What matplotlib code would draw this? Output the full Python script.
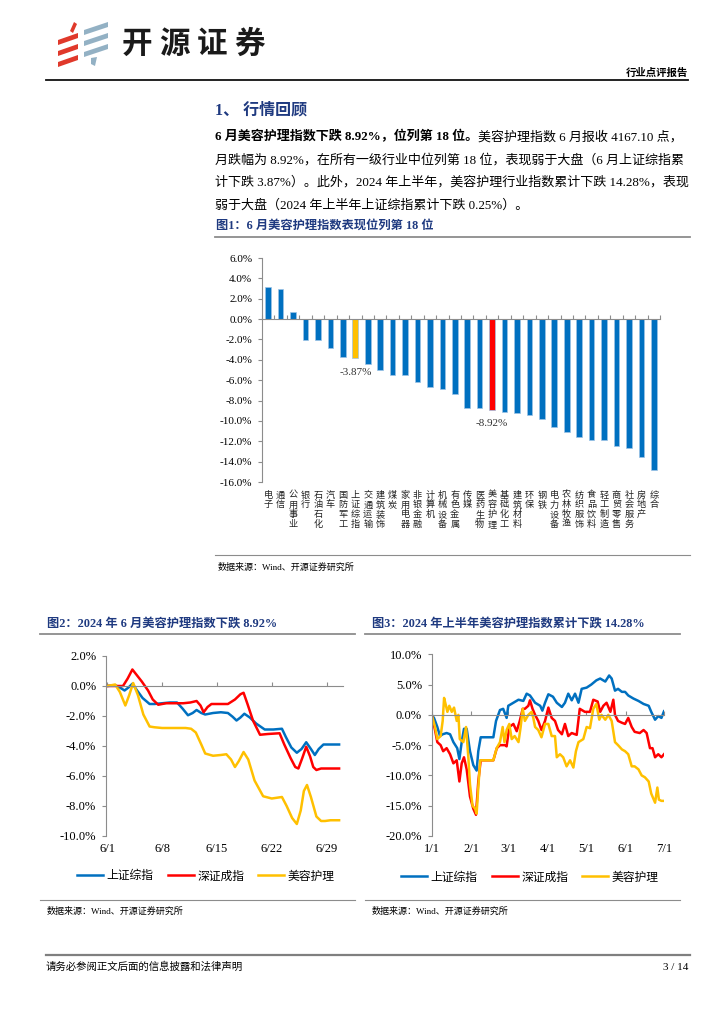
import numpy as np
import matplotlib
matplotlib.use('Agg')
import matplotlib.pyplot as plt
from matplotlib.patches import Polygon
from matplotlib.lines import Line2D

plt.rcParams['font.family'] = ['Noto Sans CJK SC', 'DejaVu Sans']
plt.rcParams['axes.unicode_minus'] = False

W, H = 724, 1024
NAVY = '#1f3a80'
BLUE = '#0070c0'
RED = '#ff0000'
GOLD = '#ffc000'
GREY = '#8c8c8c'
SERIF = ['Liberation Serif', 'Noto Sans CJK SC']

# fig 1: June return by industry (%)
industries = ['电子', '通信', '公用事业', '银行', '石油石化', '汽车', '国防军工', '上证综指',
              '交通运输', '建筑装饰', '煤炭', '家用电器', '非银金融', '计算机', '机械设备',
              '有色金属', '传媒', '医药生物', '美容护理', '基础化工', '建筑材料', '环保',
              '钢铁', '电力设备', '农林牧渔', '纺织服饰', '食品饮料', '轻工制造', '商贸零售',
              '社会服务', '房地产', '综合']
june_ret = [3.18, 2.92, 0.69, -2.03, -2.03, -2.82, -3.77, -3.87, -4.39, -4.98, -5.54, -5.54,
            -6.13, -6.66, -6.89, -7.34, -8.69, -8.69, -8.92, -9.11, -9.18, -9.41, -9.84,
            -10.56, -11.08, -11.54, -11.84, -11.84, -12.43, -12.66, -13.51, -14.79]
highlight = {'上证综指': GOLD, '美容护理': RED}

# fig 2: June cumulative change (%), x = day of June
sh_jun_day = [1, 2, 2.6, 3.2, 3.7, 4.2, 4.8, 5.5, 6.4, 7.0, 8, 9, 9.9, 10.6, 11.3, 11.9, 12.4,
              13.0, 13.5, 14.5, 15.5, 16.4, 17.0, 17.5, 18.0, 18.5, 19.2, 20.0, 21.1, 22.2,
              23.3, 23.8, 24.5, 25.2, 25.8, 26.4, 27.0, 27.5, 28.0, 28.6, 29.5, 30.6]
sh_jun = [0, 0.05, -0.1, -0.3, -0.1, 0.15, -0.3, -0.8, -1.2, -1.2, -1.15, -1.1, -1.1, -1.5,
          -1.95, -1.8, -1.6, -1.8, -1.9, -1.8, -1.75, -1.8, -2.05, -2.3, -2.1, -1.85, -2.1,
          -2.5, -2.9, -2.9, -2.85, -3.4, -4.1, -4.45, -4.2, -3.75, -4.2, -4.6, -4.2, -3.9,
          -3.9, -3.9]
sz_jun_day = [1, 2, 3, 3.6, 4.2, 4.8, 5.4, 6.2, 6.8, 7.5, 8.5, 9.5, 10.7, 11.6, 12.4, 12.9,
              13.3, 13.8, 14.3, 15.3, 16.4, 17.3, 18.0, 18.4, 18.9, 19.6, 20.5, 21.5, 23.0,
              23.6, 24.4, 25.0, 25.4, 25.9, 26.4, 26.9, 27.3, 27.7, 28.3, 29.5, 30.6]
sz_jun = [0, 0, 0, 0.5, 1.1, 0.7, 0.3, -0.3, -0.9, -1.25, -1.15, -1.15, -1.15, -1.1, -1.0,
          -1.3, -1.75, -1.4, -1.2, -1.2, -1.2, -0.9, -0.55, -0.45, -1.2, -2.3, -3.25, -3.2,
          -3.15, -3.9, -4.8, -5.4, -5.5, -4.8, -4.05, -4.7, -5.4, -5.6, -5.5, -5.5, -5.5]
mr_jun_day = [1, 2, 2.6, 3.3, 3.8, 4.3, 4.9, 5.6, 6.4, 7.0, 8, 9, 10, 11, 11.7, 12.3, 13.0,
              13.5, 14.5, 15.5, 16.2, 16.8, 17.3, 17.8, 18.4, 19.0, 19.8, 20.9, 22.0, 23.3,
              23.9, 24.6, 25.2, 25.7, 26.1, 26.5, 27.0, 27.7, 28.3, 28.8, 29.5, 30.6]
mr_jun = [0, 0.1, -0.4, -1.3, -0.6, 0.2, -0.6, -1.9, -2.7, -2.75, -2.8, -2.8, -2.8, -2.8,
          -2.85, -3.1, -3.9, -4.5, -4.65, -4.6, -4.55, -4.9, -5.4, -5.0, -4.4, -4.9, -6.3,
          -7.35, -7.5, -7.4, -8.0, -8.8, -9.2, -8.3, -7.0, -6.6, -7.4, -8.7, -9.0, -9.0,
          -8.95, -8.95]

# fig 3: H1 cumulative change (%), x = days since 1/1
sh_h1_day = [0, 1.8, 4.4, 6.5, 8.6, 11.7, 14.4, 17, 20, 21.7, 23.5, 25.3, 27.4, 30, 32.6,
             35.2, 36.5, 38.4, 43, 48.3, 50.4, 53.5, 56, 58.7, 60, 64, 68, 71.8, 74.4, 77,
             81, 85, 86.7, 88.8, 91.4, 95, 98, 102, 104.4, 107, 109.7, 112.3, 115, 117.5,
             121.4, 125, 129, 132, 136, 139, 141, 143.6, 146, 149, 151.5, 154, 158, 162,
             166, 170, 172, 175, 177.5, 180, 182]
sh_h1 = [0, -0.5, -2, -3.5, -3.2, -3.0, -3.2, -4.5, -5.5, -7.3, -4.5, -2.3, -2.3, -6, -8.3,
         -9.2, -6, -3.7, -3.7, -3.7, -1, 0.8, 1, -0.5, 1.5, 2.0, 2.5, 2.3, 3.5, 3.2, 2.0,
         1.5, 0.7, 2, 3.4, 3.0, 2.0, 1.3, 2.0, 3.5, 2.4, 3.5, 2.0, 4.3, 4.5, 5, 5.7, 6,
         5.5, 6.5, 6, 4, 4.3, 3.8, 3.8, 3.2, 2.7, 2.3, 1.8, 1.5, 0.5, -0.8, -0.2, -0.5, 0.6]
sz_h1_day = [0, 2.6, 4.4, 7, 9, 11.7, 14.4, 17, 19.6, 21.7, 23.5, 25.3, 27.4, 30, 32.6,
             34.7, 36.5, 38.4, 43, 48.3, 51, 53.5, 57.4, 58.7, 60.8, 64, 66.6, 69, 71.3,
             73, 75.7, 77, 79, 81, 83.5, 86, 88.8, 91.4, 94, 96.6, 99, 102, 104.4, 107,
             109.7, 113.6, 116, 120, 124, 126.6, 130, 132, 134.5, 137, 140, 142.3, 143.6,
             146, 149, 151.5, 154, 156.7, 159, 163, 166, 168.4, 171, 173, 175, 177.5, 180,
             182]
sz_h1 = [0, -2.5, -4.5, -5, -6, -5.5, -6.5, -8, -7.5, -11, -8, -7, -9, -13.5, -15.5, -16.5,
         -11, -7.5, -7.5, -7.5, -5.5, -5, -5, -5.2, -2, -1.5, -2.7, -1, 1, 1, 1.5, 2.4, 1,
         0, -1, -2.5, -1, 1.2, -0.5, -1.0, -2.5, -3.2, -1.5, -3.5, -3.0, -3.3, 1.0, 0.5,
         0.5, 2.5, 2.2, 0.5, 1.5, 2.0, 0.5, 2.5, 0, -1, -1.3, -1.5, -0.5, -2, -2.8, -3,
         -2.5, -3.0, -5.5, -5.5, -7, -6.5, -7.0, -6.5]
mr_h1_day = [0, 2.6, 4.4, 7, 8.6, 9.7, 11.2, 12.3, 13.8, 15.7, 17.5, 19.6, 20.9, 22, 24.8,
             26.9, 28.7, 30, 32, 34, 35.2, 36.5, 38, 43, 48.3, 50.9, 53.5, 55.6, 57, 58.7,
             60.8, 62.7, 65, 68, 69.7, 71.3, 73, 75.7, 78.3, 79.6, 81, 83.5, 86, 88.8, 91.4,
             94, 96.6, 98, 100.5, 103, 105.7, 108.4, 111, 113, 115, 118.8, 121.4, 124,
             126.6, 129, 131.3, 133, 136, 138.4, 141, 143.6, 146, 149, 151.5, 154, 156.7,
             159, 162, 164.5, 167, 170, 172, 175, 176.8, 178, 180, 182]
mr_h1 = [0, -2, -4, -3.5, -1, 2.8, 1.5, 0.5, 1.5, 0.5, 1.2, -1, 0, -4, -4.5, -2, -7, -11.5,
         -15, -15.5, -16.3, -12, -7.5, -7.5, -7.5, -5.5, -4.5, -2, -4.5, -2.5, -1.5, -4,
         -3.5, -4.5, -2, 1, -1, 0, 0.5, -0.5, -2, -2.5, -3.7, -1.5, -1.5, -3.5, -3.5, -7,
         -6.5, -7, -8.5, -7.5, -8.7, -6, -4.5, -4.0, -2.0, -2.2, 1, 1.8, -0.8, 0, -0.8, 0,
         -1, -4.5, -5, -5.7, -6, -6.5, -8.5, -8.5, -9, -10, -10.3, -11, -13, -14.5, -12,
         -14, -14.2, -14.2]

legend_names = ['上证综指', '深证成指', '美容护理']

para_bold = '6 月美容护理指数下跌 8.92%，位列第 18 位。'
para_lines = ['美容护理指数 6 月报收 4167.10 点，',
              '月跌幅为 8.92%，在所有一级行业中位列第 18 位，表现弱于大盘（6 月上证综指累',
              '计下跌 3.87%）。此外，2024 年上半年，美容护理行业指数累计下跌 14.28%，表现',
              '弱于大盘（2024 年上半年上证综指累计下跌 0.25%）。']
source = '数据来源：Wind、开源证券研究所'

fig = plt.figure(figsize=(W / 100, H / 100), dpi=100)


def fx(x):
    return x / W


def fy(y):
    return 1 - y / H


def px_axes(x0, ytop, x1, ybot):
    return fig.add_axes([fx(x0), fy(ybot), (x1 - x0) / W, (ybot - ytop) / H])


def hline(x0, x1, y, color=GREY, lw=1.0):
    fig.add_artist(Line2D([fx(x0), fx(x1)], [fy(y), fy(y)], color=color, lw=lw))


def style_axes(ax, fs):
    for s in ['top', 'right']:
        ax.spines[s].set_visible(False)
    ax.spines['left'].set_color(GREY)
    ax.spines['bottom'].set_color(GREY)
    ax.spines['bottom'].set_position(('data', 0))
    ax.tick_params(axis='y', direction='out', length=3, color=GREY, pad=4, labelsize=fs)
    ax.tick_params(axis='x', direction='in', length=3, color=GREY, labelbottom=False)
    for t in ax.get_yticklabels():
        t.set_family(SERIF)


# ---- header ----
red_logo = [[(58, 40), (78, 33), (78, 38), (58, 45)],
            [(58, 51), (78, 44), (78, 49), (58, 56)],
            [(58, 62), (78, 55), (78, 60), (58, 67)],
            [(70, 31), (74, 22), (77, 24), (73, 33)]]
for pts in red_logo:
    fig.add_artist(Polygon([(fx(a), fy(b)) for a, b in pts], closed=True,
                           color='#e0392b', lw=0))
grey_logo = [[(84, 30), (108, 22), (108, 27), (84, 35)],
             [(84, 41), (108, 33), (108, 38), (84, 46)],
             [(84, 52), (108, 44), (108, 49), (84, 57)],
             [(91, 58), (97, 57), (95, 66), (91, 64)]]
for pts in grey_logo:
    fig.add_artist(Polygon([(fx(a), fy(b)) for a, b in pts], closed=True,
                           color='#93b1c4', lw=0))
for i, ch in enumerate('开源证券'):
    fig.text(fx(137 + i * 37.5), fy(44), ch, fontsize=22, fontweight='heavy',
             ha='center', va='center', color='#1a1a1a')
fig.text(fx(688), fy(73), '行业点评报告', fontsize=7.5, fontweight='bold', ha='right', va='center')
hline(46, 688, 80, color='#111111', lw=1.3)

# ---- section text ----
fig.text(fx(215), fy(110), '1、 行情回顾', fontsize=11.5, fontweight='bold', color=NAVY,
         ha='left', va='center', family=SERIF)
t = fig.text(fx(215), fy(137), para_bold, fontsize=9.4, fontweight='bold',
             ha='left', va='center', family=SERIF)
fig.canvas.draw()
x_end = t.get_window_extent(fig.canvas.get_renderer()).x1 / fig.bbox.width
fig.text(x_end, fy(137), para_lines[0], fontsize=9.4, ha='left', va='center', family=SERIF)
for k, line in enumerate(para_lines[1:]):
    fig.text(fx(215), fy(160 + 22.7 * k), line, fontsize=9.4, ha='left', va='center',
             family=SERIF)

fig.text(fx(216), fy(226), '图1：6 月美容护理指数表现位列第 18 位', fontsize=8.8,
         fontweight='bold', color=NAVY, ha='left', va='center', family=SERIF)
hline(215, 690, 237, lw=1.3)

# ---- fig 1 bar chart ----
ax1 = px_axes(262, 258, 660, 482)
n = len(industries)
xpos = np.arange(n)
colors = [highlight.get(name, BLUE) for name in industries]
ax1.bar(xpos, june_ret, width=0.45, color=colors, edgecolor='#9dc3e6', linewidth=0.5, zorder=2)
ax1.set_xlim(-0.5, n - 0.5)
ax1.set_ylim(-16, 6)
ax1.set_yticks(np.arange(-16, 7, 2))
ax1.set_yticklabels([f'{v:.1f}%' for v in np.arange(-16, 7, 2)])
ax1.set_xticks(np.arange(n + 1) - 0.5)
style_axes(ax1, 8)
# vertical category names, one character per row
for i, name in enumerate(industries):
    for j, ch in enumerate(name):
        ax1.annotate(ch, (i, 0), xycoords=('data', 'axes fraction'),
                     xytext=(0, -9.5 - 7.0 * j), textcoords='offset points',
                     ha='center', va='center', fontsize=6.6, color='#222222')
for i, name in enumerate(industries):
    if name in highlight:
        ax1.annotate(f'{june_ret[i]:.2f}%', (i, june_ret[i]), xytext=(0, -10),
                     textcoords='offset points', ha='center', va='center',
                     fontsize=8, family=SERIF, color='#333333')

hline(215, 690, 555, lw=0.8)
fig.text(fx(218), fy(567), source, fontsize=6.5, ha='left', va='center', family=SERIF)

# ---- fig 2 ----
fig.text(fx(47), fy(624), '图2：2024 年 6 月美容护理指数下跌 8.92%', fontsize=8.8,
         fontweight='bold', color=NAVY, ha='left', va='center', family=SERIF)
hline(40, 355, 634, lw=1.3)
ax2 = px_axes(106, 656, 342.7, 836)
ax2.plot(sh_jun_day, sh_jun, color=BLUE, lw=1.8, label=legend_names[0])
ax2.plot(sz_jun_day, sz_jun, color=RED, lw=1.8, label=legend_names[1])
ax2.plot(mr_jun_day, mr_jun, color=GOLD, lw=1.8, label=legend_names[2])
ax2.set_xlim(0.83, 31.06)
ax2.set_ylim(-10, 2)
jun_ticks = [1, 8, 15, 22, 29]
ax2.set_yticks(np.arange(-10, 3, 2))
ax2.set_yticklabels([f'{v:.1f}%' for v in np.arange(-10, 3, 2)])
ax2.set_xticks(jun_ticks)
style_axes(ax2, 9)
sec2 = ax2.secondary_xaxis(0)
sec2.spines['bottom'].set_visible(False)
sec2.set_xticks(jun_ticks)
sec2.set_xticklabels([f'6/{d}' for d in jun_ticks], family=SERIF, fontsize=9)
sec2.tick_params(length=0, pad=5)
ax2.legend(loc='center', bbox_to_anchor=(fx(206), fy(876)), bbox_transform=fig.transFigure,
           ncol=3, frameon=False, fontsize=8.5, handlelength=2.2, handletextpad=0.3,
           columnspacing=1.2)
hline(40, 355, 900, lw=0.8)
fig.text(fx(47), fy(911), source, fontsize=6.5, ha='left', va='center', family=SERIF)

# ---- fig 3 ----
fig.text(fx(372), fy(624), '图3：2024 年上半年美容护理指数累计下跌 14.28%', fontsize=8.8,
         fontweight='bold', color=NAVY, ha='left', va='center', family=SERIF)
hline(365, 680, 634, lw=1.3)
ax3 = px_axes(431.7, 654.3, 664, 836)
ax3.plot(sh_h1_day, sh_h1, color=BLUE, lw=1.8, label=legend_names[0])
ax3.plot(sz_h1_day, sz_h1, color=RED, lw=1.8, label=legend_names[1])
ax3.plot(mr_h1_day, mr_h1, color=GOLD, lw=1.8, label=legend_names[2])
month_ticks = [0, 31, 60, 91, 121, 152, 182]
month_labels = ['1/1', '2/1', '3/1', '4/1', '5/1', '6/1', '7/1']
ax3.set_xlim(0, 182)
ax3.set_ylim(-20, 10)
ax3.set_yticks(np.arange(-20, 11, 5))
ax3.set_yticklabels([f'{v:.1f}%' for v in np.arange(-20, 11, 5)])
ax3.set_xticks(month_ticks)
style_axes(ax3, 9)
sec3 = ax3.secondary_xaxis(0)
sec3.spines['bottom'].set_visible(False)
sec3.set_xticks(month_ticks)
sec3.set_xticklabels(month_labels, family=SERIF, fontsize=9)
sec3.tick_params(length=0, pad=5)
ax3.legend(loc='center', bbox_to_anchor=(fx(530), fy(877)), bbox_transform=fig.transFigure,
           ncol=3, frameon=False, fontsize=8.5, handlelength=2.2, handletextpad=0.3,
           columnspacing=1.2)
hline(365, 680, 900, lw=0.8)
fig.text(fx(372), fy(911), source, fontsize=6.5, ha='left', va='center', family=SERIF)

# ---- footer ----
hline(46, 690, 955, color='#7f7f7f', lw=1.6)
fig.text(fx(46), fy(967), '请务必参阅正文后面的信息披露和法律声明', fontsize=7.5,
         ha='left', va='center')
fig.text(fx(688), fy(967), '3 / 14', fontsize=8, ha='right', va='center', family=SERIF)

fig.savefig('out.png', dpi=100)
